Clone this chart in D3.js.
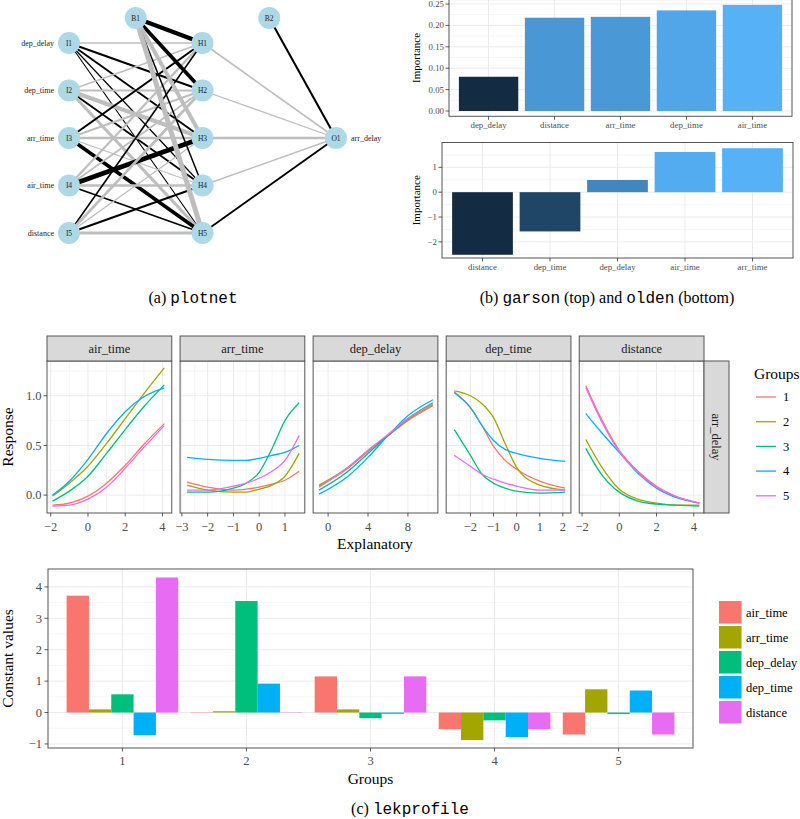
<!DOCTYPE html>
<html><head><meta charset="utf-8">
<script src="https://cdn.jsdelivr.net/npm/d3@7"></script>
<style>
body{margin:0;background:#fff}
svg{display:block}
text{font-family:"Liberation Serif",serif}
.mono{font-family:"Liberation Mono",monospace}
</style>
</head><body>
<svg id="c" width="800" height="819"></svg>
<script>
// ================= DATA =================
// (a) plotnet
const inputLabels = ["dep_delay","dep_time","arr_time","air_time","distance"];
const inputNodes = ["I1","I2","I3","I4","I5"];
const hiddenNodes = ["H1","H2","H3","H4","H5"];
const outputNodes = ["O1"];
const outputLabels = ["arr_delay"];
// rows = inputs, cols = hidden
const weightsInHidden = [
  [-1.3, 1.6, 1.6, 0.9, 0.8],
  [-1.2,-1.5,-4.0, 1.5,-3.0],
  [ 1.8,-2.0,-2.2,-1.0, 3.5],
  [-2.0,-1.6, 4.6,-2.2, 1.5],
  [ 1.3,-2.5,-1.0, 1.6,-2.6]
];
const weightsBias1 = [4.0, 3.6, -3.8, 1.2, -5.0];
const weightsHiddenOut = [-1.3, -1.0, -2.2, -1.2, 1.5];
const weightsBias2 = [1.8];

// (b) garson / olden
const garsonVars = ["dep_delay","distance","arr_time","dep_time","air_time"];
const garsonValues = [0.080, 0.218, 0.220, 0.235, 0.248];
const garsonTicks = [0, 0.05, 0.10, 0.15, 0.20, 0.25];
const oldenVars = ["distance","dep_time","dep_delay","air_time","arr_time"];
const oldenValues = [-2.52, -1.58, 0.49, 1.62, 1.77];
const oldenTicks = [-2, -1, 0, 1];

// (c) lekprofile
const groups = ["1","2","3","4","5"];
const groupColors = ["#F8766D","#A3A500","#00BF7D","#00B0F6","#E76BF3"];
const facetVars = ["air_time","arr_time","dep_delay","dep_time","distance"];
const respTicks = [0, 0.5, 1.0];

const airTimeX = [-1.9,-1,0,1,2,3,4.1];
const airTimeY = [
  [-0.10,-0.08,-0.01,0.12,0.30,0.51,0.72],
  [-0.01,0.12,0.29,0.52,0.77,1.02,1.28],
  [-0.06,0.04,0.19,0.42,0.66,0.89,1.11],
  [0.00,0.14,0.36,0.62,0.84,0.99,1.08],
  [-0.11,-0.10,-0.04,0.08,0.27,0.48,0.70]
];
const arrTimeX = [-2.8,-2,-1,-0.5,0,0.5,1,1.55];
const arrTimeY = [
  [0.13,0.08,0.05,0.06,0.08,0.11,0.15,0.24],
  [0.10,0.05,0.03,0.03,0.06,0.10,0.19,0.42],
  [0.03,0.03,0.07,0.12,0.23,0.47,0.75,0.93],
  [0.38,0.36,0.35,0.35,0.37,0.40,0.43,0.50],
  [0.05,0.05,0.09,0.12,0.17,0.24,0.35,0.60]
];
const depDelayX = [-0.9,2,4,6,8,10.5];
const depDelayY = [
  [0.09,0.27,0.44,0.60,0.75,0.90],
  [0.10,0.28,0.45,0.60,0.76,0.91],
  [0.05,0.24,0.42,0.60,0.77,0.93],
  [0.01,0.19,0.38,0.60,0.80,0.96],
  [0.08,0.28,0.45,0.61,0.77,0.92]
];
const depTimeX = [-2.7,-2,-1.5,-1,-0.5,0,1,2.1];
const depTimeY = [
  [1.04,0.88,0.70,0.49,0.35,0.26,0.14,0.07],
  [1.05,1.00,0.92,0.78,0.52,0.28,0.10,0.05],
  [0.66,0.40,0.21,0.12,0.07,0.04,0.02,0.03],
  [1.03,0.88,0.70,0.55,0.46,0.42,0.37,0.34],
  [0.40,0.29,0.21,0.16,0.12,0.09,0.05,0.05]
];
const distanceX = [-1.8,-1,0,1,2,3,4.3];
const distanceY = [
  [1.10,0.78,0.45,0.24,0.09,-0.01,-0.08],
  [0.56,0.30,0.06,-0.04,-0.08,-0.10,-0.10],
  [0.47,0.22,0.03,-0.06,-0.09,-0.10,-0.11],
  [0.82,0.64,0.43,0.22,0.07,-0.02,-0.08],
  [1.08,0.76,0.44,0.23,0.08,-0.01,-0.08]
];
const facetXTicks = [[-2,0,2,4],[-3,-2,-1,0,1],[0,4,8],[-2,-1,0,1,2],[-2,0,2,4]];
const facetXMinor = [[-1,1,3],[-2.5,-1.5,-0.5,0.5,1.5],[2,6,10],[-2.5,-1.5,-0.5,0.5,1.5],[-1,1,3]];
const facetXDomain = [[-2.2,4.5],[-3.07,1.77],[-1.5,11],[-3.05,2.35],[-2.15,4.55]];

const constGroups = ["1","2","3","4","5"];
const constVars = ["air_time","arr_time","dep_delay","dep_time","distance"];
const constValues = [
  [3.72, 0.10, 0.58, -0.72, 4.30],
  [-0.01, 0.04, 3.55, 0.92, -0.01],
  [1.15, 0.10, -0.18, -0.04, 1.15],
  [-0.53, -0.88, -0.25, -0.78, -0.53],
  [-0.70, 0.74, -0.05, 0.70, -0.70]
];
const constTicks = [-1,0,1,2,3,4];

// ================= HELPERS =================
const svg = d3.select("#c");
const GRID = "#ebebeb", BORDER = "#555", TICKC = "#333", TICKTXT = "#4d4d4d";
const fmtMinus = v => String(v).replace("-", "\u2212");

function hline(g, x0, x1, y, w, c){ g.append("line").attr("x1",x0).attr("x2",x1).attr("y1",y).attr("y2",y).attr("stroke",c).attr("stroke-width",w); }
function vline(g, x, y0, y1, w, c){ g.append("line").attr("x1",x).attr("x2",x).attr("y1",y0).attr("y2",y1).attr("stroke",c).attr("stroke-width",w); }
function border(g, x0, y0, x1, y1){ g.append("rect").attr("x",x0).attr("y",y0).attr("width",x1-x0).attr("height",y1-y0).attr("fill","none").attr("stroke",BORDER).attr("stroke-width",1); }

// ================= (a) plotnet =================
(function(){
  const g = svg.append("g");
  const layerX = d3.scalePoint().domain(["in","hid","out"]).range([69, 336]);
  const nodeY = d3.scalePoint().domain(d3.range(inputNodes.length)).range([43, 233]);
  const biasY = 18;
  const allW = [].concat(...weightsInHidden, weightsBias1, weightsHiddenOut, weightsBias2).map(Math.abs);
  const wScale = d3.scaleLinear().domain([0, d3.max(allW)]).range([0.4, 5]);
  const col = w => w >= 0 ? "#000000" : "#BEBEBE";
  const inPos = inputNodes.map((d,i)=>[layerX("in"), nodeY(i)]);
  const hidPos = hiddenNodes.map((d,i)=>[layerX("hid"), nodeY(i)]);
  const b1 = [(layerX("in")+layerX("hid"))/2, biasY];
  const b2 = [(layerX("hid")+layerX("out"))/2, biasY];
  const outPos = [layerX("out"), (nodeY(0)+nodeY(inputNodes.length-1))/2];
  const edges = [];
  weightsInHidden.forEach((row,i)=>row.forEach((w,j)=>edges.push([inPos[i],hidPos[j],w])));
  weightsBias1.forEach((w,j)=>edges.push([b1,hidPos[j],w]));
  weightsHiddenOut.forEach((w,j)=>edges.push([hidPos[j],outPos,w]));
  weightsBias2.forEach(w=>edges.push([b2,outPos,w]));
  g.selectAll("line.e").data(edges).join("line")
    .attr("x1",d=>d[0][0]).attr("y1",d=>d[0][1]).attr("x2",d=>d[1][0]).attr("y2",d=>d[1][1])
    .attr("stroke",d=>col(d[2])).attr("stroke-width",d=>wScale(Math.abs(d[2])));
  const nodes = inputNodes.map((n,i)=>[n,inPos[i]])
    .concat(hiddenNodes.map((n,i)=>[n,hidPos[i]]))
    .concat([["B1",b1],["B2",b2],[outputNodes[0],outPos]]);
  g.selectAll("circle").data(nodes).join("circle")
    .attr("cx",d=>d[1][0]).attr("cy",d=>d[1][1]).attr("r",11).attr("fill","#ADD8E6");
  g.selectAll("text.n").data(nodes).join("text")
    .attr("x",d=>d[1][0]).attr("y",d=>d[1][1]+2.6).attr("text-anchor","middle")
    .attr("font-size",7.5).attr("fill","#222").text(d=>d[0]);
  g.selectAll("text.l").data(inputLabels).join("text")
    .attr("x",layerX("in")-15).attr("y",(d,i)=>nodeY(i)+2.8).attr("text-anchor","end")
    .attr("font-size",8).attr("fill","#222").text(d=>d);
  g.append("text").attr("x",outPos[0]+15).attr("y",outPos[1]+2.8)
    .attr("font-size",8).attr("fill","#222").text(outputLabels[0]);
})();

// ================= (b) garson / olden =================
function importancePanel(vars, vals, ticks, fmt, px0, px1, yDom, yRng, xLabY, minorTicks){
  const g = svg.append("g");
  const x = d3.scalePoint().domain(vars).range([px0, px1]).padding(0.6);
  const y = d3.scaleLinear().domain(yDom).range(yRng);
  const bw = x.step()*0.9;
  const c = d3.scaleLinear().domain(d3.extent(vals)).range(["#132B43","#56B1F7"]).interpolate(d3.interpolateLab);
  const top = yRng[1], bot = yRng[0];
  g.append("rect").attr("x",px0).attr("y",top).attr("width",px1-px0).attr("height",bot-top).attr("fill","#fff");
  minorTicks.forEach(t=>hline(g,px0,px1,y(t),0.5,GRID));
  ticks.forEach(t=>hline(g,px0,px1,y(t),1,GRID));
  vars.forEach(v=>vline(g,x(v),top,bot,1,GRID));
  g.selectAll("rect.b").data(vals).join("rect")
    .attr("x",(d,i)=>x(vars[i])-bw/2).attr("width",bw)
    .attr("y",d=>y(Math.max(0,d))).attr("height",d=>Math.abs(y(d)-y(0)))
    .attr("fill",d=>c(d));
  border(g,px0,top,px1,bot);
  ticks.forEach(t=>{
    hline(g,px0-3.5,px0,y(t),0.8,TICKC);
    g.append("text").attr("x",px0-5).attr("y",y(t)+3).attr("text-anchor","end")
      .attr("font-size",8.8).attr("fill",TICKTXT).text(fmt(t));
  });
  vars.forEach(v=>{
    vline(g,x(v),bot,bot+3.5,0.8,TICKC);
    g.append("text").attr("x",x(v)).attr("y",xLabY).attr("text-anchor","middle")
      .attr("font-size",8.8).attr("fill",TICKTXT).text(v);
  });
  g.append("text").attr("transform",`translate(420,${(top+bot)/2}) rotate(-90)`)
    .attr("text-anchor","middle").attr("font-size",11).attr("fill","#000").text("Importance");
}
importancePanel(garsonVars, garsonValues, garsonTicks, d=>d3.format(".2f")(d), 449, 792,
  [-0.0124,0.2604],[116.3,-0.45], 128, [0.025,0.075,0.125,0.175,0.225]);
importancePanel(oldenVars, oldenValues, oldenTicks, fmtMinus, 442, 793,
  [-2.65,2.0],[258,142.5], 270, [-2.5,-1.5,-0.5,0.5,1.5]);

// ================= captions =================
function caption(x, y, parts, size){
  const t = svg.append("text").attr("x",x).attr("y",y).attr("text-anchor","middle").attr("font-size",size).attr("fill","#000");
  parts.forEach(p=>{
    const s = t.append("tspan").text(p[0]).attr("xml:space","preserve");
    if(p[1]) s.attr("class","mono").style("font-family","'Liberation Mono',monospace");
  });
}
caption(193, 303, [["(a) ",0],["plotnet",1]], 16);
caption(607, 303, [["(b) ",0],["garson",1],[" (top) and ",0],["olden",1],[" (bottom)",0]], 16);
caption(410, 814, [["(c) ",0],["lekprofile",1]], 16);

// ================= (c) lekprofile facets =================
(function(){
  const g = svg.append("g");
  const facet = d3.scaleBand().domain(facetVars).range([47, 704]).paddingInner(0.0625);
  const top = 361, bot = 513, stripTop = 336;
  const y = d3.scaleLinear().domain([-0.18, 1.35]).range([bot, top]);
  const xsAll = [airTimeX, arrTimeX, depDelayX, depTimeX, distanceX];
  const ysAll = [airTimeY, arrTimeY, depDelayY, depTimeY, distanceY];
  facetVars.forEach((v, fi)=>{
    const x0 = facet(v), x1 = x0 + facet.bandwidth();
    const x = d3.scaleLinear().domain(facetXDomain[fi]).range([x0, x1]);
    g.append("rect").attr("x",x0).attr("y",top).attr("width",x1-x0).attr("height",bot-top).attr("fill","#fff");
    [0.25,0.75,1.25].forEach(t=>hline(g,x0,x1,y(t),0.5,GRID));
    facetXMinor[fi].forEach(t=>vline(g,x(t),top,bot,0.5,GRID));
    respTicks.forEach(t=>hline(g,x0,x1,y(t),1,GRID));
    facetXTicks[fi].forEach(t=>vline(g,x(t),top,bot,1,GRID));
    const line = d3.line().x((d,i)=>x(xsAll[fi][i])).y(d=>y(d)).curve(d3.curveMonotoneX);
    ysAll[fi].forEach((arr, gi)=>{
      g.append("path").attr("d", line(arr)).attr("fill","none").attr("stroke",groupColors[gi]).attr("stroke-width",1.3);
    });
    border(g,x0,top,x1,bot);
    // strip
    g.append("rect").attr("x",x0).attr("y",stripTop).attr("width",x1-x0).attr("height",top-stripTop)
      .attr("fill","#d9d9d9").attr("stroke",BORDER).attr("stroke-width",1);
    g.append("text").attr("x",(x0+x1)/2).attr("y",(stripTop+top)/2+4.3).attr("text-anchor","middle")
      .attr("font-size",12.5).attr("fill","#1a1a1a").text(v);
    facetXTicks[fi].forEach(t=>{
      vline(g,x(t),bot,bot+3.5,0.8,TICKC);
      g.append("text").attr("x",x(t)).attr("y",bot+18).attr("text-anchor","middle")
        .attr("font-size",12.5).attr("fill",TICKTXT).text(fmtMinus(t));
    });
  });
  respTicks.forEach(t=>{
    const x0 = facet(facetVars[0]);
    hline(g,x0-3.5,x0,y(t),0.8,TICKC);
    g.append("text").attr("x",x0-5.5).attr("y",y(t)+4.3).attr("text-anchor","end")
      .attr("font-size",12.5).attr("fill",TICKTXT).text(d3.format(".1f")(t));
  });
  // right strip
  const rx = 704;
  g.append("rect").attr("x",rx).attr("y",top).attr("width",25).attr("height",bot-top)
    .attr("fill","#d9d9d9").attr("stroke",BORDER).attr("stroke-width",1);
  g.append("text").attr("transform",`translate(${rx+8},${(top+bot)/2}) rotate(90)`).attr("text-anchor","middle")
    .attr("font-size",12.5).attr("fill","#1a1a1a").text(outputLabels[0]);
  // titles
  g.append("text").attr("transform",`translate(13,${(top+bot)/2}) rotate(-90)`).attr("text-anchor","middle")
    .attr("font-size",15.5).text("Response");
  g.append("text").attr("x",375).attr("y",549).attr("text-anchor","middle").attr("font-size",15.5).text("Explanatory");
  // legend
  g.append("text").attr("x",754).attr("y",378.5).attr("font-size",15.5).text("Groups");
  groups.forEach((gr,i)=>{
    const yy = 397 + i*24.7;
    hline(g,756,776,yy,1.3,groupColors[i]);
    g.append("text").attr("x",783).attr("y",yy+4.3).attr("font-size",12.5).attr("fill","#000").text(gr);
  });
})();

// ================= (c) constant values bars =================
(function(){
  const g = svg.append("g");
  const px0 = 48, px1 = 693, top = 569, bot = 748;
  const x = d3.scalePoint().domain(constGroups).range([px0, px1]).padding(0.6);
  const sub = d3.scaleBand().domain(constVars).range([-0.45*x.step(), 0.45*x.step()]);
  const y = d3.scaleLinear().domain([-1.13, 4.57]).range([bot, top]);
  g.append("rect").attr("x",px0).attr("y",top).attr("width",px1-px0).attr("height",bot-top).attr("fill","#fff");
  [-0.5,0.5,1.5,2.5,3.5,4.5].forEach(t=>hline(g,px0,px1,y(t),0.5,GRID));
  constTicks.forEach(t=>hline(g,px0,px1,y(t),1,GRID));
  constGroups.forEach(gr=>vline(g,x(gr),top,bot,1,GRID));
  constValues.forEach((row, gi)=>{
    row.forEach((v, vi)=>{
      g.append("rect").attr("x", x(constGroups[gi]) + sub(constVars[vi])).attr("width", sub.bandwidth())
        .attr("y", y(Math.max(0,v))).attr("height", Math.abs(y(v)-y(0)))
        .attr("fill", groupColors[vi]);
    });
  });
  border(g,px0,top,px1,bot);
  constTicks.forEach(t=>{
    hline(g,px0-3.5,px0,y(t),0.8,TICKC);
    g.append("text").attr("x",px0-6).attr("y",y(t)+4.3).attr("text-anchor","end")
      .attr("font-size",12.5).attr("fill",TICKTXT).text(fmtMinus(t));
  });
  constGroups.forEach(gr=>{
    vline(g,x(gr),bot,bot+3.5,0.8,TICKC);
    g.append("text").attr("x",x(gr)).attr("y",bot+16.5).attr("text-anchor","middle")
      .attr("font-size",12.5).attr("fill",TICKTXT).text(gr);
  });
  g.append("text").attr("transform",`translate(13,${(top+bot)/2}) rotate(-90)`).attr("text-anchor","middle")
    .attr("font-size",15.5).text("Constant values");
  g.append("text").attr("x",(px0+px1)/2).attr("y",783.5).attr("text-anchor","middle").attr("font-size",15.5).text("Groups");
  // legend
  constVars.forEach((v,i)=>{
    const yy = 601 + i*25;
    g.append("rect").attr("x",719).attr("y",yy).attr("width",22.5).attr("height",22.5).attr("fill",groupColors[i]);
    g.append("text").attr("x",746).attr("y",yy+15.5).attr("font-size",12.5).attr("fill","#000").text(v);
  });
})();
</script>
</body></html>
